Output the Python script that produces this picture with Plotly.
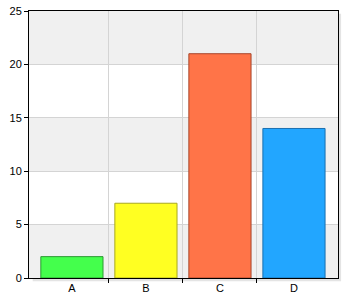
import plotly.graph_objects as go

categories = ["A", "B", "C", "D"]
values = [2, 7, 21, 14]
fill_colors = ["#44ff4c", "#ffff22", "#ff7448", "#22a6ff"]
line_colors = ["#2a9a30", "#a8a820", "#a8452a", "#1a70b0"]
y_ticks = [0, 5, 10, 15, 20, 25]

xpos = list(range(len(categories)))

fig = go.Figure()
fig.add_trace(go.Bar(
    x=xpos, y=values, width=0.84,
    marker=dict(color=fill_colors, line=dict(color=line_colors, width=1)),
    hoverinfo="skip",
))

shapes = []
# shadow and white plot background
shapes.append(dict(type="rect", xref="paper", yref="paper", x0=0.012, x1=1.01,
                   y0=-0.012, y1=0.99, fillcolor="#e4e4e4", line=dict(width=0),
                   layer="below"))
shapes.append(dict(type="rect", xref="paper", yref="paper", x0=0, x1=1,
                   y0=0, y1=1, fillcolor="white", line=dict(width=0),
                   layer="below"))
# alternating background bands
for i in range(0, len(y_ticks) - 1, 2):
    shapes.append(dict(type="rect", xref="paper", yref="y", x0=0, x1=1,
                       y0=y_ticks[i], y1=y_ticks[i + 1],
                       fillcolor="#f0f0f0", line=dict(width=0), layer="below"))

font = dict(family="Liberation Sans, Arial, sans-serif", size=11, color="#000")

fig.update_layout(
    width=350, height=300,
    margin=dict(l=29, r=12, t=11, b=22, pad=0),
    paper_bgcolor="white", plot_bgcolor="rgba(0,0,0,0)",
    showlegend=False,
    shapes=shapes,
    font=font,
    xaxis=dict(
        range=[-0.58, 3.595], tickvals=xpos, ticktext=categories,
        showgrid=False, ticks="", zeroline=False, automargin=False,
        showline=True, linecolor="black", linewidth=1, mirror=True,
        minor=dict(tickvals=[0.5, 1.5, 2.5], showgrid=True, gridcolor="#d4d4d4",
                   gridwidth=1, ticks="outside", ticklen=4, tickcolor="black"),
        fixedrange=True,
    ),
    yaxis=dict(
        range=[0, 25], tickvals=y_ticks, showgrid=True, gridcolor="#d4d4d4",
        gridwidth=1, zeroline=False, ticks="outside", ticklen=4, tickcolor="black",
        showline=True, linecolor="black", linewidth=1, mirror=True,
        automargin=False, fixedrange=True,
    ),
)

fig.write_html("out.html", config={"displayModeBar": False})
